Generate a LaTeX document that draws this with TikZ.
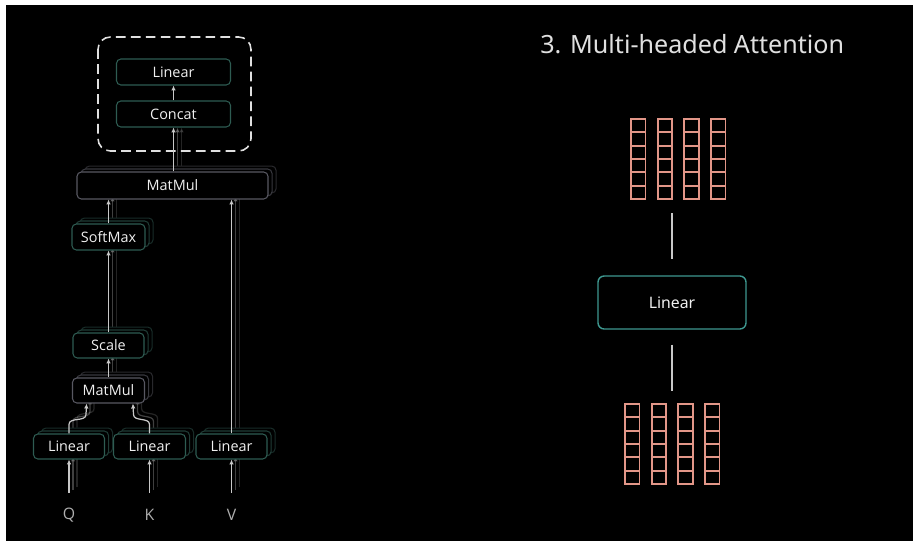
\documentclass[tikz,border=0pt]{standalone}
\usepackage{fontspec}
\setmainfont{Open Sans}
\newfontfamily\titlefont{Noto Sans}
\usetikzlibrary{shadows,arrows.meta}
\pgfdeclarelayer{backdrop}
\pgfdeclarelayer{ghost}
\pgfsetlayers{backdrop,ghost,main}
\definecolor{tealdim}{RGB}{46,92,82}
\definecolor{tealshade}{RGB}{32,60,54}
\definecolor{tealshadefar}{RGB}{24,44,40}
\definecolor{graydim}{RGB}{88,88,98}
\definecolor{grayshade}{RGB}{56,56,62}
\definecolor{grayshadefar}{RGB}{40,40,44}
\definecolor{arrowgray}{RGB}{200,200,200}
\definecolor{boxtext}{RGB}{240,240,240}
\definecolor{labelgray}{RGB}{175,175,175}
\definecolor{tealbright}{RGB}{62,152,144}
\definecolor{salmon}{RGB}{226,150,136}
\newcommand{\px}{0.02cm}
\newcommand{\drawvector}[2]{
    \foreach \k in {0,...,5}{
      \draw[vecline] (#1,#2+\k*13.33) rectangle ++(14.5,13.33);
    }
}
\newcommand{\ghostline}[2]{
  \begin{pgfonlayer}{ghost}
    \foreach \s/\o in {2/0.18,1/0.32}{
      \draw[arr, opacity=\o] ([xshift=\s*2.3pt,yshift=\s*1.7pt]#1) -- ([xshift=\s*2.3pt,yshift=\s*1.7pt]#2);
    }
  \end{pgfonlayer}
}
\tikzset{
  box/.style={draw=tealdim, fill=black, line width=0.6pt, rounded corners=2.5pt, inner sep=0pt,
    minimum height=25*\px, text=boxtext, font=\fontsize{8.2}{9}\selectfont},
  mulbox/.style={box, draw=graydim},
  tealstack/.style={
    general shadow={shadow xshift=4.6pt, shadow yshift=3.4pt, draw=tealshadefar, fill=black, line width=0.6pt},
    general shadow={shadow xshift=2.3pt, shadow yshift=1.7pt, draw=tealshade, fill=black, line width=0.6pt}},
  graystack/.style={
    general shadow={shadow xshift=4.6pt, shadow yshift=3.4pt, draw=grayshadefar, fill=black, line width=0.6pt},
    general shadow={shadow xshift=2.3pt, shadow yshift=1.7pt, draw=grayshade, fill=black, line width=0.6pt}},
  arr/.style={draw=arrowgray, line width=0.7pt, -{Latex[length=2.8pt,width=2.6pt]}},
  inlabel/.style={inner sep=0pt, text=labelgray, font=\fontsize{9}{10}\selectfont},
  dashbox/.style={draw=white!88!black, line width=0.9pt, dash pattern=on 5.5pt off 3pt, rounded corners=7pt},
  linbox/.style={draw=tealbright, line width=0.8pt, rounded corners=3.5pt, minimum width=148*\px,
    minimum height=53*\px, text=boxtext, font=\titlefont\fontsize{9}{10}\selectfont},
  conn/.style={draw=arrowgray, line width=0.8pt},
  vecline/.style={draw=salmon, line width=1pt},
  titletext/.style={inner sep=0pt, text=white!88!black, font=\titlefont\fontsize{14.3}{16}\selectfont}
}
\begin{document}
\begin{tikzpicture}[x=0.02cm, y=-0.02cm]
\useasboundingbox (0,0) rectangle (913,541);
\begin{pgfonlayer}{backdrop}
  \fill[white] (0,0) rectangle (913,541);
  \fill[black] (6,5) rectangle (913,541);
\end{pgfonlayer}

\node[box, tealstack, minimum width=71*\px] (lq) at (69,446.5) {Linear};
\node[box, tealstack, minimum width=72*\px] (lk) at (149.5,446.5) {Linear};
\node[box, tealstack, minimum width=71*\px] (lv) at (231.5,446.5) {Linear};
\node[mulbox, graystack, minimum width=72*\px] (mm1) at (108.5,390.5) {MatMul};
\node[box, tealstack, minimum width=71*\px] (sc) at (108.5,345.5) {Scale};
\node[box, tealstack, minimum width=73*\px, minimum height=26*\px] (sm) at (108.5,237) {SoftMax};
\node[mulbox, graystack, minimum width=191*\px, minimum height=27*\px] (mm2) at (172.5,185.5) {MatMul};
\node[box, minimum width=114*\px, minimum height=26*\px] (cc) at (173.5,114) {Concat};
\node[box, minimum width=114*\px, minimum height=26*\px] (lo) at (173.5,72) {Linear};
\draw[dashbox] (98,37) rectangle (251,151);

\node[inlabel] (q) at (69,515) {Q};
\node[inlabel] (k) at (149.5,515) {K};
\node[inlabel] (v) at (231.5,515) {V};
\coordinate (qin) at (q.north |- 0,493);
\coordinate (kin) at (k.north |- 0,493);
\coordinate (vin) at (v.north |- 0,493);
\coordinate (smtop) at (sm.north |- mm2.south);
\coordinate (vtop) at (lv.north |- mm2.south);
\coordinate (mmtop) at (mm2.north -| cc.south);

\draw[arr] (qin) -- (lq.south);
\draw[arr] (kin) -- (lk.south);
\draw[arr] (vin) -- (lv.south);
\ghostline{qin}{lq.south}
\ghostline{kin}{lk.south}
\ghostline{vin}{lv.south}

\draw[arr] (lq.north) -- ++(0,-9) to[out=90,in=-90] ++(17,-10) -- ([xshift=-12.5pt]mm1.south);
\draw[arr] (lk.north) -- ++(0,-9) to[out=90,in=-90] ++(-16,-10) -- ([xshift=13.9pt]mm1.south);
\begin{pgfonlayer}{ghost}
  \foreach \s/\o in {2/0.18,1/0.32}{
    \draw[arr, opacity=\o] ([xshift=\s*2.3pt,yshift=\s*1.7pt]lq.north) -- ++(0,-9) to[out=90,in=-90] ++(17,-10) -- ++(0,-12);
    \draw[arr, opacity=\o] ([xshift=\s*2.3pt,yshift=\s*1.7pt]lk.north) -- ++(0,-9) to[out=90,in=-90] ++(-16,-10) -- ++(0,-12);
  }
\end{pgfonlayer}

\draw[arr] (mm1.north) -- (sc.south);
\ghostline{mm1.north}{sc.south}
\draw[arr] (sc.north) -- (sm.south);
\ghostline{sc.north}{sm.south}
\draw[arr] (sm.north) -- (smtop);
\ghostline{sm.north}{smtop}
\draw[arr] (lv.north) -- (vtop);
\ghostline{lv.north}{vtop}
\draw[arr] (mmtop) -- (cc.south);
\begin{pgfonlayer}{ghost}
  \foreach \s/\o in {2/0.18,1/0.32}{
    \draw[arr, opacity=\o] ([xshift=\s*2.3pt,yshift=\s*1.7pt]mmtop) -- ([xshift=\s*2.3pt]cc.south);
  }
\end{pgfonlayer}
\draw[arr] (cc.north) -- (lo.south);

\node[titletext, anchor=base west] (title) at (540,53) {3. Multi-headed Attention};
\foreach \c in {0,...,3}{
  \drawvector{631+\c*26.67}{119}
  \drawvector{625+\c*26.67}{404}
}
\node[inner sep=0pt, minimum width=95*\px, minimum height=80*\px] (topvec) at (678,159) {};
\node[inner sep=0pt, minimum width=95*\px, minimum height=79*\px] (botvec) at (672.5,443.5) {};
\node[linbox] (lin) at (672,302.5) {Linear};
\draw[conn, shorten <=7.9pt, shorten >=9.1pt] (topvec.south -| lin.north) -- (lin.north);
\draw[conn, shorten <=8.5pt, shorten >=7.4pt] (lin.south) -- (lin.south |- botvec.north);
\end{tikzpicture}
\end{document}
